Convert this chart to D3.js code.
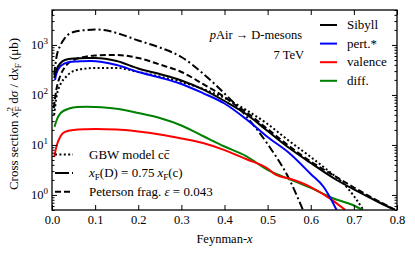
<!DOCTYPE html>
<html>
<head>
<meta charset="utf-8">
<script src="https://cdn.jsdelivr.net/npm/d3@7"></script>
<style>
body { margin: 0; background: #fff; }
</style>
</head>
<body>
<svg id="chart" width="415" height="253" font-family="Liberation Serif, Times New Roman, serif"></svg>
<script>
// Feynman-x grid and cross sections (mub)
var sibyllX = [0.005, 0.01, 0.02, 0.03, 0.05, 0.08, 0.1, 0.15, 0.2, 0.25, 0.3, 0.35, 0.4, 0.45, 0.5, 0.55, 0.6, 0.66, 0.7, 0.75, 0.795];
var sibyllVals = [218, 315, 436, 500, 536, 548, 548, 478, 338, 262, 195, 129, 75.7, 41.6, 19.0, 8.69, 4.36, 1.99, 1.29, 0.774, 0.5];

var pertX = [0.007, 0.01, 0.02, 0.04, 0.06, 0.09, 0.15, 0.2, 0.25, 0.3, 0.35, 0.4, 0.45, 0.5, 0.55, 0.6, 0.63, 0.66];
var pertVals = [199, 262, 379, 456, 467, 478, 397, 288, 223, 166, 109, 67.5, 33.0, 14.4, 6.9, 2.62, 1.44, 0.5];

var valenceX = [0.005, 0.01, 0.02, 0.03, 0.05, 0.08, 0.1, 0.15, 0.2, 0.25, 0.3, 0.35, 0.4, 0.45, 0.5, 0.52, 0.55, 0.6, 0.65, 0.68];
var valenceVals = [5.74, 9.1, 15.1, 18.2, 19.9, 20.6, 20.8, 20.4, 18.6, 16.2, 13.5, 10.9, 7.9, 5.24, 3.38, 2.51, 2.13, 1.44, 0.79, 0.5];

var diffX = [0.006, 0.01, 0.02, 0.04, 0.06, 0.08, 0.1, 0.15, 0.2, 0.25, 0.3, 0.35, 0.4, 0.45, 0.5, 0.52, 0.55, 0.6, 0.65, 0.7, 0.72];
var diffVals = [23.2, 30.1, 43.6, 53.6, 57.4, 58.2, 57.4, 52.9, 43.6, 34.6, 24.5, 15.1, 9.31, 6.01, 3.16, 2.62, 2.08, 1.38, 0.869, 0.615, 0.5];

var gbwX = [0.005, 0.01, 0.02, 0.03, 0.05, 0.08, 0.1, 0.15, 0.2, 0.25, 0.3, 0.35, 0.4, 0.45, 0.5, 0.55, 0.6, 0.65, 0.67, 0.7, 0.722];
var gbwVals = [39.7, 86.9, 166, 218, 301, 338, 346, 346, 288, 234, 182, 132, 86.9, 50, 26.2, 12, 5.74, 2.62, 1.9, 0.953, 0.5];

var fixedFragX = [0.005, 0.01, 0.02, 0.03, 0.05, 0.08, 0.1, 0.12, 0.15, 0.2, 0.25, 0.3, 0.35, 0.4, 0.45, 0.5, 0.55, 0.582];
var fixedFragVals = [251, 548, 998, 1377, 1815, 1991, 2037, 1991, 1734, 1227, 889, 574, 269, 107, 37.9, 10.4, 2.08, 0.5];

var petersonX = [0.004, 0.01, 0.02, 0.03, 0.05, 0.08, 0.1, 0.15, 0.2, 0.25, 0.3, 0.35, 0.4, 0.43, 0.45, 0.5, 0.55, 0.6, 0.65, 0.7, 0.75, 0.795];
var petersonVals = [54.8, 126, 251, 362, 500, 587, 615, 630, 548, 406, 288, 166, 91, 58.7, 45.6, 20.8, 9.5, 4.67, 2.56, 1.41, 0.81, 0.51];

var xTickVals = [0, 0.1, 0.2, 0.3, 0.4, 0.5, 0.6, 0.7, 0.8];
var yMajorTicks = [1, 10, 100, 1000];
var yTickExps = ["0", "1", "2", "3"];

var colorLegend = ["Sibyll", "pert.*", "valence", "diff."];
var colorLegendColors = ["#000000", "#0000ff", "#ff0000", "#008000"];

var margin = {left: 52, top: 10, right: 18, bottom: 43};
var width = 415 - margin.left - margin.right;   // 345
var height = 253 - margin.top - margin.bottom;  // 200

var svg = d3.select("#chart");
var g = svg.append("g").attr("transform", "translate(" + margin.left + "," + margin.top + ")");

var x = d3.scaleLinear().domain([0, 0.8]).range([0, width]);
var y = d3.scaleLog().domain([0.5, 5000]).range([height, 0]);

svg.append("defs").append("clipPath").attr("id", "plotClip")
    .append("rect").attr("width", width).attr("height", height);

// series: x array, values, colour, dash pattern
var series = [
    {xs: gbwX, vals: gbwVals, color: "#000", dash: "2,2.4"},
    {xs: petersonX, vals: petersonVals, color: "#000", dash: "6,3"},
    {xs: fixedFragX, vals: fixedFragVals, color: "#000", dash: "8,3,2,3"},
    {xs: diffX, vals: diffVals, color: "#008000", dash: null},
    {xs: valenceX, vals: valenceVals, color: "#ff0000", dash: null},
    {xs: pertX, vals: pertVals, color: "#0000ff", dash: null},
    {xs: sibyllX, vals: sibyllVals, color: "#000", dash: null}
];

var line = d3.line()
    .x(function(d) { return x(d[0]); })
    .y(function(d) { return y(d[1]); })
    .curve(d3.curveMonotoneX);

var plot = g.append("g").attr("clip-path", "url(#plotClip)");
series.forEach(function(s) {
    var pts = s.xs.map(function(v, i) { return [v, s.vals[i]]; });
    plot.append("path")
        .attr("d", line(pts))
        .attr("fill", "none")
        .attr("stroke", s.color)
        .attr("stroke-width", 2)
        .attr("stroke-dasharray", s.dash);
});

// axes, ticks pointing inward
var xBottom = d3.axisBottom(x).tickValues(xTickVals).tickSize(-5).tickPadding(5)
    .tickFormat(d3.format(".1f"));
var xTop = d3.axisTop(x).tickValues(xTickVals).tickSize(-5).tickFormat("");

var minorTicks = y.ticks().filter(function(v) { return yMajorTicks.indexOf(v) < 0; });

var gx = g.append("g").attr("transform", "translate(0," + height + ")").call(xBottom);
g.append("g").call(xTop);
g.append("g").call(d3.axisLeft(y).tickValues(yMajorTicks).tickSize(-5).tickFormat(""));
g.append("g").call(d3.axisLeft(y).tickValues(minorTicks).tickSize(-2.5).tickFormat(""));
g.append("g").attr("transform", "translate(" + width + ",0)")
    .call(d3.axisRight(y).tickValues(yMajorTicks).tickSize(-5).tickFormat(""));
g.append("g").attr("transform", "translate(" + width + ",0)")
    .call(d3.axisRight(y).tickValues(minorTicks).tickSize(-2.5).tickFormat(""));

g.selectAll(".domain").remove();
g.selectAll(".tick line").attr("stroke", "#000").attr("stroke-width", 1);
// d3 puts sans-serif on axis groups; drop it so the svg font applies
g.selectAll("g").attr("font-family", null);
gx.attr("font-size", 12.5);

// y tick labels as powers of ten
yMajorTicks.forEach(function(v, i) {
    var t = g.append("text").attr("x", -4).attr("y", y(v) + 4)
        .attr("text-anchor", "end").attr("font-size", 12.5);
    t.append("tspan").text("10");
    t.append("tspan").attr("dy", -5).attr("font-size", 9).text(yTickExps[i]);
});

g.append("rect").attr("width", width).attr("height", height)
    .attr("fill", "none").attr("stroke", "#000").attr("stroke-width", 1.3);

// axis titles
var xl = svg.append("text").attr("x", margin.left + width / 2).attr("y", 243)
    .attr("text-anchor", "middle").attr("font-size", 12.5);
xl.append("tspan").text("Feynman-");
xl.append("tspan").attr("font-style", "italic").text("x");

var yl = svg.append("text").attr("transform", "translate(18,114) rotate(-90)")
    .attr("text-anchor", "middle").attr("font-size", 13);
yl.append("tspan").text("Cross section ");
yl.append("tspan").attr("font-style", "italic").text("x");
yl.append("tspan").attr("font-size", 9).attr("dy", 3).text("F");
yl.append("tspan").attr("font-size", 9).attr("dx", -5).attr("dy", -8).text("2");
yl.append("tspan").attr("dy", 5).text(" d");
yl.append("tspan").attr("font-style", "italic").text("σ");
yl.append("tspan").text(" / d");
yl.append("tspan").attr("font-style", "italic").text("x");
yl.append("tspan").attr("font-size", 9).attr("dy", 3).text("F");
yl.append("tspan").attr("dy", -3).text(" (μb)");

// annotation
var ann = svg.append("text").attr("x", 302).attr("y", 39).attr("text-anchor", "end").attr("font-size", 12.5);
ann.append("tspan").attr("font-style", "italic").text("p");
ann.append("tspan").text("Air → D-mesons");
svg.append("text").attr("x", 304).attr("y", 59).attr("text-anchor", "end").attr("font-size", 12.5).text("7 TeV");

// colour legend, top right
var leg1 = svg.append("g");
colorLegend.forEach(function(name, i) {
    var ry = 25 + i * 18.6;
    leg1.append("line").attr("x1", 320).attr("x2", 337).attr("y1", ry).attr("y2", ry)
        .attr("stroke", colorLegendColors[i]).attr("stroke-width", 2);
    leg1.append("text").attr("x", 347).attr("y", ry + 4).attr("font-size", 13).text(name);
});

// line style legend, bottom left
var styleDash = ["2,2.4", "14,3", "6,3"];
var leg2 = svg.append("g");
styleDash.forEach(function(dash, i) {
    var ry = 154.5 + i * 18.6;
    leg2.append("line").attr("x1", 55).attr("x2", 73).attr("y1", ry).attr("y2", ry)
        .attr("stroke", "#000").attr("stroke-width", 2).attr("stroke-dasharray", dash);
});
var t1 = leg2.append("text").attr("x", 89).attr("y", 158.5).attr("font-size", 13);
t1.append("tspan").text("GBW model c");
t1.append("tspan").text("c\u0304");
var t2 = leg2.append("text").attr("x", 89).attr("y", 177).attr("font-size", 13);
t2.append("tspan").attr("font-style", "italic").text("x");
t2.append("tspan").attr("font-size", 9).attr("dy", 3).text("F");
t2.append("tspan").attr("dy", -3).text("(D) = 0.75");
t2.append("tspan").attr("font-style", "italic").attr("dx", 3).text("x");
t2.append("tspan").attr("font-size", 9).attr("dy", 3).text("F");
t2.append("tspan").attr("dy", -3).text("(c)");
var t3 = leg2.append("text").attr("x", 89).attr("y", 195.5).attr("font-size", 13);
t3.append("tspan").text("Peterson frag. ");
t3.append("tspan").attr("font-style", "italic").text("ε");
t3.append("tspan").text(" = 0.043");
</script>
</body>
</html>
